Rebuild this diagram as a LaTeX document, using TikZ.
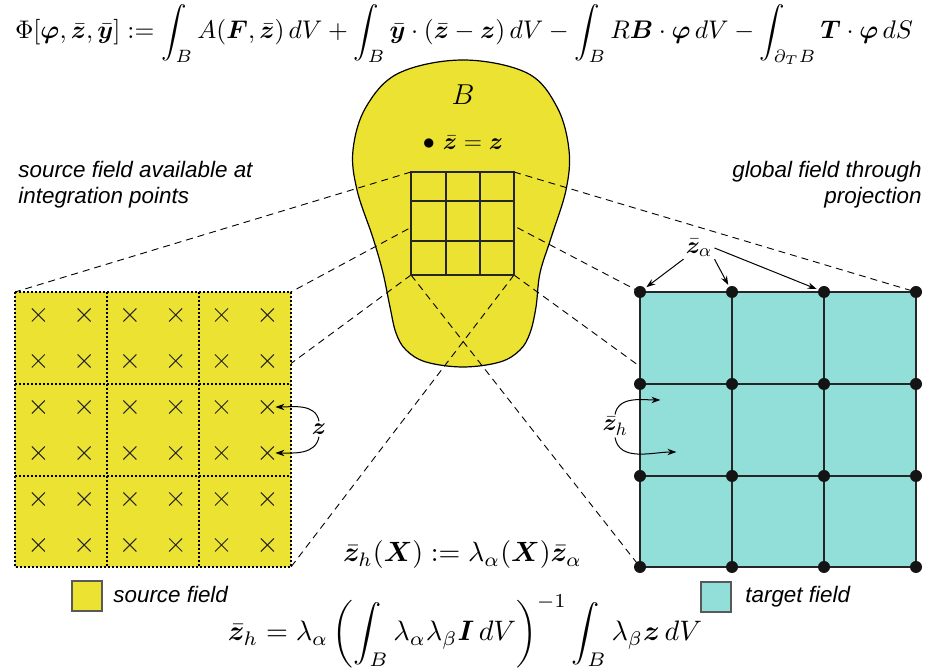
\documentclass[tikz,border=0pt]{standalone}
\usepackage{amsmath}
\usepackage{bm}
\usepackage{graphicx}
\usepackage{fontspec}
\setsansfont{Liberation Sans}
\usetikzlibrary{shapes.misc,arrows.meta}
\definecolor{srcyellow}{RGB}{236,226,50}
\definecolor{tgtteal}{RGB}{146,222,216}
\begin{document}
\begin{tikzpicture}[x=0.5pt,y=-0.5pt,
  projline/.style={dash pattern=on 3.5pt off 2.5pt, line width=0.45pt},
  cellline/.style={line width=0.6pt, draw=black!85},
  dotline/.style={dash pattern=on 1pt off 1pt, line width=0.55pt, draw=black},
  xmark/.style={cross out, draw=black!85, line width=0.5pt, minimum size=6pt, inner sep=0pt},
  nodedot/.style={circle, fill=black!92, minimum size=6pt, inner sep=0pt},
  lbl/.style={font=\fontsize{11.2}{13}\selectfont\sffamily\itshape},
  mathlbl/.style={font=\fontsize{12.5}{15}\selectfont, inner sep=1pt},
  pointer/.style={-{Stealth[length=4.5pt,width=3.2pt]}, line width=0.5pt, shorten >=0.8pt},
  legbox/.style={draw=black!65, minimum size=15pt, inner sep=0pt, line width=0.6pt},
]
\useasboundingbox (0,0) rectangle (933,672);

% body B
\draw[fill=srcyellow, line width=0.6pt] plot[smooth cycle, tension=0.6] coordinates {
  (463,60) (527,73) (557,107) (569,150) (566,190) (551,238) (540,273) (536,307)
  (530,333) (520,350) (500,362) (463,367) (426,362) (406,350) (396,333) (390,307)
  (383,273) (373,238) (357,190) (353,150) (366,107) (399,73)};

% corner coordinates
\coordinate (iTL) at (411,172); \coordinate (iTR) at (514,172);
\coordinate (iBL) at (411,275); \coordinate (iBR) at (514,275);
\coordinate (lTL) at (15,292);  \coordinate (lTR) at (291,292);
\coordinate (lBL) at (15,567);  \coordinate (lBR) at (291,567);
\coordinate (rTL) at (640,292); \coordinate (rTR) at (916,292);
\coordinate (rBL) at (640,567); \coordinate (rBR) at (916,567);

% projection lines
\foreach \c in {TL,TR,BL,BR} {
  \draw[projline] (i\c) -- (l\c);
  \draw[projline] (i\c) -- (r\c);
}

% inner grid
\fill[srcyellow] (iTL) rectangle (iBR);
\draw[cellline] (iTL) rectangle (iBR);
\foreach \x in {446,480} \draw[cellline] (\x,172) -- (\x,275);
\foreach \y in {201,241} \draw[cellline] (411,\y) -- (514,\y);

% left (source) grid
\fill[srcyellow] (lTL) rectangle (lBR);
\draw[dotline] (lTL) rectangle (lBR);
\foreach \x in {107,199} \draw[dotline] (\x,292) -- (\x,567);
\foreach \y in {384,476} \draw[dotline] (15,\y) -- (291,\y);
\foreach \i in {0,...,5} {
  \foreach \j in {0,...,5} {
    \node[xmark] (c-\i-\j) at ({38.3+45.8*\i},{315+46*\j}) {};
  }
}

% right (target) grid
\fill[tgtteal] (rTL) rectangle (rBR);
\foreach \x in {640,732,824,916} \draw[cellline] (\x,292) -- (\x,567);
\foreach \y in {292,384,476,567} \draw[cellline] (640,\y) -- (916,\y);
\foreach \i/\x in {0/640,1/732,2/824,3/916} {
  \foreach \j/\y in {0/292,1/384,2/476,3/567} {
    \node[nodedot] (d-\i-\j) at (\x,\y) {};
  }
}

% text labels
\node[lbl, anchor=north west, align=left, inner sep=0pt] (srclbl) at (18,161)
  {source field available at\\integration points};
\node[lbl, anchor=north east, align=right, inner sep=0pt] (tgtlbl) at (922,161)
  {global field through\\projection};

\node[mathlbl, font=\fontsize{14}{16}\selectfont] (Blbl) at (463,95) {$B$};
\node[mathlbl] (zeq) at (463,143) {$\bullet\ \bar{\bm z} = \bm z$};
\node[mathlbl] (zl) at (319,429) {$\bm z$};
\node[mathlbl] (za) at (699,248) {$\bar{\bm z}_\alpha$};
\node[mathlbl] (zh) at (615,426) {$\bar{\bm z}_h$};

% pointers
\draw[pointer] (zl.north) to[out=100,in=0] (c-5-2);
\draw[pointer] (zl.south) to[out=-100,in=0] (c-5-3);
\draw[pointer] (za.south west) -- (d-0-0);
\draw[pointer] (za.south east) -- (d-1-0);
\draw[pointer] (za.east) -- (d-2-0);
\coordinate (h1) at (662,400);
\coordinate (h2) at (678,452);
\draw[pointer] (zh.north) to[out=80,in=180] (h1);
\draw[pointer] (zh.south) to[out=-80,in=180] (h2);

% formulas
\node[anchor=base, inner sep=0pt] (phieq) at (464,39) {\resizebox{449pt}{!}{$\displaystyle
  \Phi[\bm\varphi,\bar{\bm z},\bar{\bm y}] := \int_B A(\bm F,\bar{\bm z})\,dV
  + \int_B \bar{\bm y}\cdot(\bar{\bm z}-\bm z)\,dV
  - \int_B R\bm B\cdot\bm\varphi\,dV
  - \int_{\partial_T B}\bm T\cdot\bm\varphi\,dS$}};
\node[anchor=base, inner sep=0pt] (interpeq) at (462.5,562) {\resizebox{119.5pt}{!}{$
  \bar{\bm z}_h(\bm X) := \lambda_\alpha(\bm X)\bar{\bm z}_\alpha$}};
\node[anchor=base, inner sep=0pt] (projeq) at (465,641) {\resizebox{237pt}{!}{$\displaystyle
  \bar{\bm z}_h = \lambda_\alpha\left(\int_B \lambda_\alpha\lambda_\beta\bm I\,dV\right)^{-1}
  \int_B \lambda_\beta\bm z\,dV$}};

% legend
\node[legbox, fill=srcyellow] (srcbox) at (87,596) {};
\node[lbl, anchor=base west, inner sep=0pt] (srctxt) at (113,603) {source field};
\node[legbox, fill=tgtteal] (tgtbox) at (716,597) {};
\node[lbl, anchor=base west, inner sep=0pt] (tgttxt) at (745,603) {target field};
\end{tikzpicture}
\end{document}
